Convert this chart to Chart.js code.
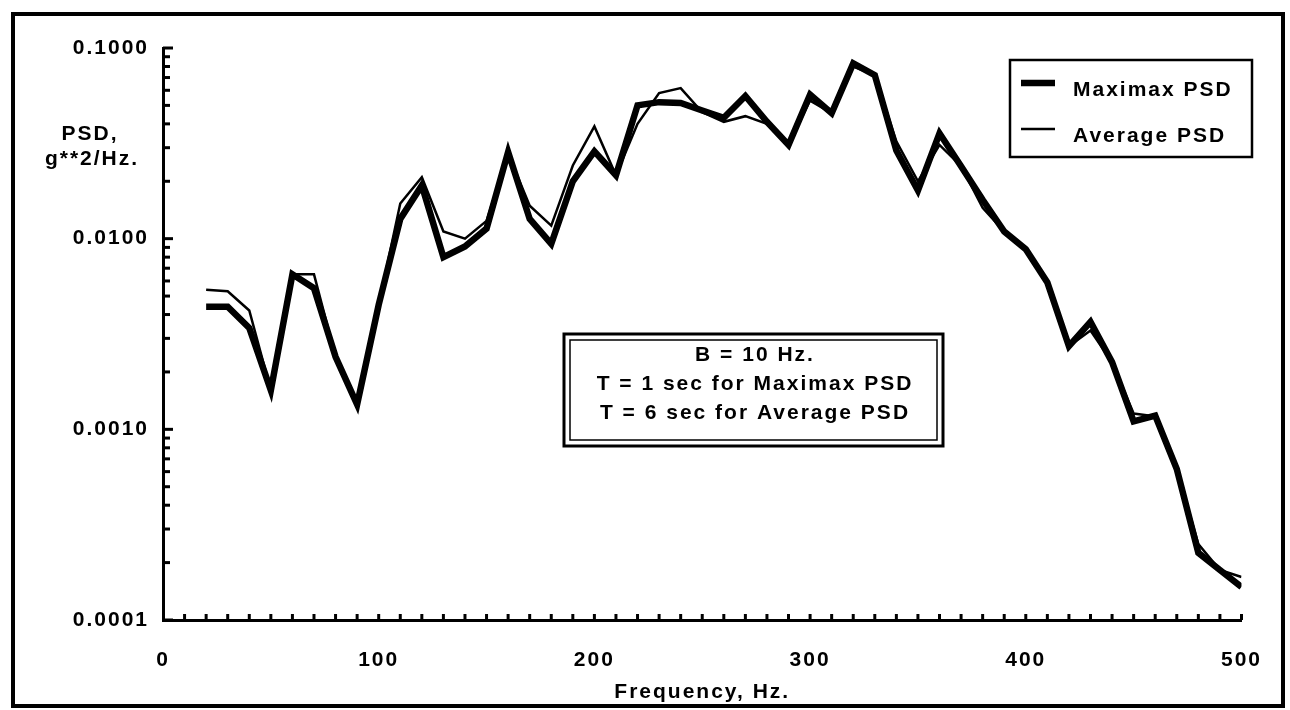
<!DOCTYPE html>
<html>
<head>
<meta charset="utf-8">
<script src="https://cdn.jsdelivr.net/npm/chart.js@4/dist/chart.umd.min.js"></script>
<style>
  html, body { margin: 0; padding: 0; background: #fff; }
  #wrap { width: 1290px; height: 710px; }
</style>
</head>
<body>
<div id="wrap"><canvas id="psd-chart" width="1290" height="710"></canvas></div>
<script>
// frequency, Hz (one point every 10 Hz)
const freqs = [20, 30, 40, 50, 60, 70, 80, 90, 100, 110, 120, 130, 140, 150, 160, 170, 180, 190, 200,
  210, 220, 230, 240, 250, 260, 270, 280, 290, 300, 310, 320, 330, 340, 350, 360, 370, 380, 390, 400,
  410, 420, 430, 440, 450, 460, 470, 480, 490, 500]

// PSD, g**2/Hz
const maximaxPsd = [0.0044, 0.0044, 0.0034, 0.0016, 0.0065, 0.0055, 0.0024, 0.00135, 0.0045, 0.0127,
  0.019, 0.0080, 0.0091, 0.0113, 0.0285, 0.0127, 0.0094, 0.020, 0.0287, 0.0215,
  0.050, 0.052, 0.0515, 0.047, 0.043, 0.056, 0.041, 0.031, 0.057, 0.0455,
  0.083, 0.072, 0.029, 0.0179, 0.0357, 0.024, 0.016, 0.0109, 0.0088, 0.0059,
  0.00273, 0.00366, 0.00225, 0.0011, 0.00118, 0.00062, 0.000225, 0.000183, 0.000149]

const averagePsd = [0.0054, 0.0053, 0.0042, 0.0016, 0.0065, 0.0065, 0.0024, 0.00135, 0.0045, 0.0153,
  0.021, 0.0109, 0.0100, 0.0124, 0.028, 0.0149, 0.0117, 0.0242, 0.0388, 0.0215,
  0.040, 0.058, 0.0616, 0.046, 0.041, 0.0439, 0.040, 0.031, 0.053, 0.0455,
  0.080, 0.072, 0.0324, 0.020, 0.031, 0.024, 0.0145, 0.0109, 0.0088, 0.0059,
  0.00273, 0.0033, 0.00225, 0.00121, 0.00117, 0.00062, 0.00025, 0.000183, 0.000168]

const yTicks = [0.0001, 0.001, 0.01, 0.1]
const yTickLabels = ["0.0001", "0.0010", "0.0100", "0.1000"]
const noteLines = ["B = 10 Hz.", "T = 1 sec for Maximax PSD", "T = 6 sec for Average PSD"]

const FONT = "'Liberation Sans', Arial, Helvetica, sans-serif"
const SPACING = "2px"
const textFont = { family: FONT, size: 21, weight: "bold" }

const toPoints = (vals) => vals.map((v, i) => ({ x: freqs[i], y: v }))

// old-style helvetica is wide, so spread the letters a bit
const spacing = {
  id: "spacing",
  beforeLayout(chart) { chart.ctx.letterSpacing = SPACING },
  beforeDraw(chart) {
    const ctx = chart.ctx
    ctx.letterSpacing = SPACING
    ctx.save()
    ctx.fillStyle = "#fff"
    ctx.fillRect(0, 0, chart.width, chart.height)
    ctx.restore()
  }
}

const decorations = {
  id: "decorations",
  afterDraw(chart) {
    const ctx = chart.ctx
    const x = chart.scales.x
    const y = chart.scales.y
    const area = chart.chartArea
    ctx.save()
    ctx.letterSpacing = SPACING
    ctx.strokeStyle = "#000"
    ctx.fillStyle = "#000"

    // outer frame
    ctx.lineWidth = 4
    ctx.strokeRect(13, 14, 1270, 692)

    // y ticks, pointing into the plot
    ctx.lineWidth = 3
    for (let e = -4; e <= -1; e++) {
      for (let m = 1; m <= 9; m++) {
        const v = m * Math.pow(10, e)
        if (v > 0.1000001) continue
        const py = y.getPixelForValue(v)
        const len = m === 1 ? 10 : 7
        ctx.beginPath()
        ctx.moveTo(area.left, py)
        ctx.lineTo(area.left + len, py)
        ctx.stroke()
      }
    }
    // x ticks every 10 Hz
    for (let f = 10; f <= 500; f += 10) {
      const px = x.getPixelForValue(f)
      ctx.beginPath()
      ctx.moveTo(px, area.bottom)
      ctx.lineTo(px, area.bottom - 6)
      ctx.stroke()
    }

    // y axis title
    ctx.font = "bold 21px " + FONT
    ctx.textAlign = "center"
    ctx.textBaseline = "alphabetic"
    ctx.fillText("PSD,", 90, 140)
    ctx.fillText("g**2/Hz.", 92, 165)

    // legend
    const ds = chart.data.datasets
    ctx.lineWidth = 2.5
    ctx.strokeRect(1010, 60, 242, 97)
    const rows = [83, 129]
    ds.forEach((d, i) => {
      ctx.lineWidth = d.borderWidth
      ctx.beginPath()
      ctx.moveTo(1021, rows[i])
      ctx.lineTo(1055, rows[i])
      ctx.stroke()
      ctx.textAlign = "left"
      ctx.fillText(d.label, 1073, rows[i] + 13)
    })

    // note box, double border
    ctx.lineWidth = 3
    ctx.strokeRect(564, 334, 379, 112)
    ctx.lineWidth = 1.5
    ctx.strokeRect(570, 340, 367, 100)
    ctx.textAlign = "center"
    noteLines.forEach((t, i) => {
      ctx.fillText(t, 755, 361 + i * 29)
    })
    ctx.restore()
  }
}

const chartCanvas = document.getElementById("psd-chart")

const chart = new Chart(chartCanvas, {
  type: "line",
  data: {
    datasets: [
      {
        label: "Maximax PSD",
        data: toPoints(maximaxPsd),
        borderColor: "#000",
        borderWidth: 6.5,
        borderJoinStyle: "miter",
        pointRadius: 0,
        tension: 0
      },
      {
        label: "Average PSD",
        data: toPoints(averagePsd),
        borderColor: "#000",
        borderWidth: 2.5,
        borderJoinStyle: "miter",
        pointRadius: 0,
        tension: 0
      }
    ]
  },
  options: {
    responsive: false,
    animation: false,
    devicePixelRatio: 1,
    layout: { padding: { top: 48, right: 47, left: 0, bottom: 0 } },
    plugins: {
      legend: { display: false },
      tooltip: { enabled: false }
    },
    scales: {
      x: {
        type: "linear",
        min: 0,
        max: 500,
        afterFit(scale) { scale.height = 90 },
        grid: { display: true, drawOnChartArea: false, drawTicks: false },
        border: { display: true, color: "#000", width: 3 },
        ticks: {
          stepSize: 100,
          padding: 28,
          color: "#000",
          maxRotation: 0,
          font: textFont
        },
        title: {
          display: true,
          text: "Frequency, Hz.",
          color: "#000",
          padding: { top: 0, bottom: 5 },
          font: textFont
        }
      },
      y: {
        type: "logarithmic",
        min: 0.0001,
        max: 0.1,
        afterFit(scale) { scale.width = 163 },
        afterBuildTicks(scale) { scale.ticks = yTicks.map(v => ({ value: v, major: true })) },
        grid: { display: true, drawOnChartArea: false, drawTicks: false },
        border: { display: true, color: "#000", width: 3 },
        ticks: {
          padding: 14,
          color: "#000",
          autoSkip: false,
          font: textFont,
          callback: (v) => {
            const i = yTicks.findIndex(t => Math.abs(t - v) / t < 1e-6)
            return i >= 0 ? yTickLabels[i] : ""
          }
        }
      }
    }
  },
  plugins: [spacing, decorations]
})
</script>
</body>
</html>
